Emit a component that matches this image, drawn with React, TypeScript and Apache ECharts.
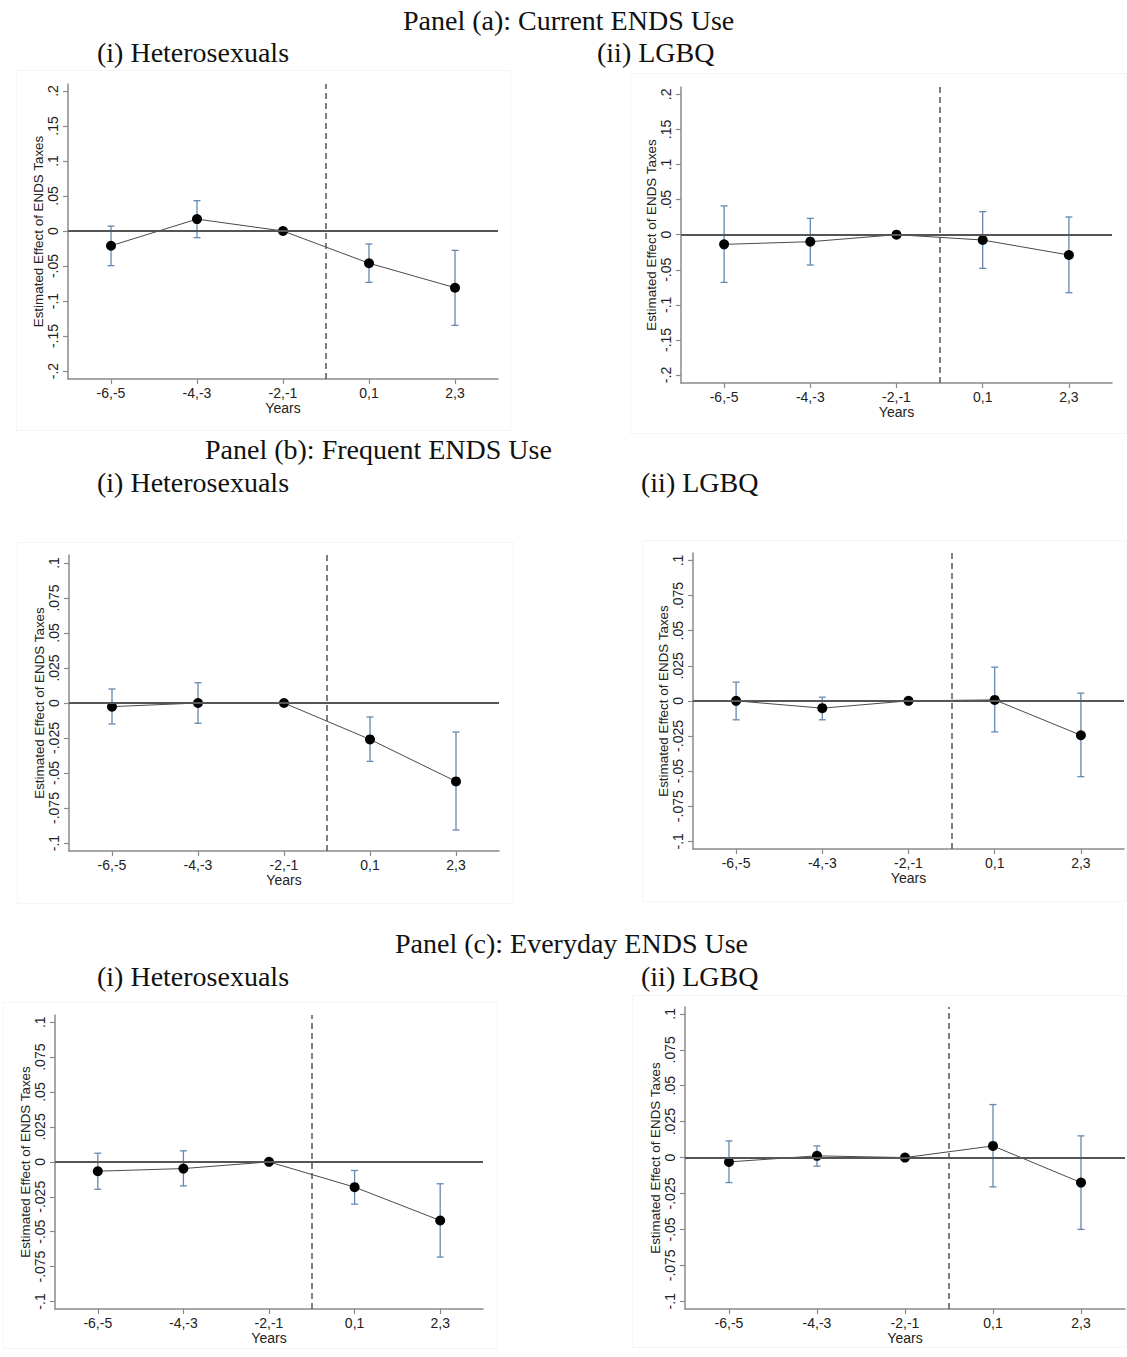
import React, { useEffect, useRef } from "react";
import * as echarts from "echarts";

// ---- Data ----
const categories = ["-6,-5", "-4,-3", "-2,-1", "0,1", "2,3"];
const categoryPositions = [1, 2, 3, 4, 5];
const eventLine = 3.5;

const yTicksWide = [-0.2, -0.15, -0.1, -0.05, 0, 0.05, 0.1, 0.15, 0.2];
const yTicksNarrow = [-0.1, -0.075, -0.05, -0.025, 0, 0.025, 0.05, 0.075, 0.1];

// Panel (a): Current ENDS Use
const currentHetCoef = [-0.021, 0.017, 0, -0.046, -0.081];
const currentHetLo = [-0.0495, -0.0095, null, -0.0733, -0.1348];
const currentHetHi = [0.007, 0.0433, null, -0.0186, -0.0276];
const currentLgbqCoef = [-0.0138, -0.01, 0, -0.0076, -0.029];
const currentLgbqLo = [-0.068, -0.0433, null, -0.048, -0.0827];
const currentLgbqHi = [0.041, 0.0233, null, 0.0328, 0.0252];

// Panel (b): Frequent ENDS Use
const frequentHetCoef = [-0.0026, 0, 0, -0.026, -0.056];
const frequentHetLo = [-0.015, -0.0145, null, -0.0417, -0.0907];
const frequentHetHi = [0.01, 0.0145, null, -0.01, -0.0207];
const frequentLgbqCoef = [0, -0.0052, 0, 0.0007, -0.0245];
const frequentLgbqLo = [-0.0135, -0.0135, null, -0.0221, -0.054];
const frequentLgbqHi = [0.0133, 0.0026, null, 0.024, 0.0055];

// Panel (c): Everyday ENDS Use
const everydayHetCoef = [-0.0067, -0.0048, 0, -0.0181, -0.042];
const everydayHetLo = [-0.0196, -0.0172, null, -0.0303, -0.0682];
const everydayHetHi = [0.0062, 0.0079, null, -0.0062, -0.0157];
const everydayLgbqCoef = [-0.003, 0.0012, 0, 0.0081, -0.0174];
const everydayLgbqLo = [-0.0174, -0.006, null, -0.0204, -0.05];
const everydayLgbqHi = [0.0116, 0.0081, null, 0.0369, 0.0151];

const xAxisTitle = "Years";
const yAxisTitle = "Estimated Effect of ENDS Taxes";

const panelTitles = [
  { text: "Panel (a): Current ENDS Use", x: 403, y: 20 },
  { text: "(i) Heterosexuals", x: 97, y: 52 },
  { text: "(ii) LGBQ", x: 597, y: 52 },
  { text: "Panel (b): Frequent ENDS Use", x: 205, y: 449 },
  { text: "(i) Heterosexuals", x: 97, y: 482 },
  { text: "(ii) LGBQ", x: 641, y: 482 },
  { text: "Panel (c): Everyday ENDS Use", x: 395, y: 943 },
  { text: "(i) Heterosexuals", x: 97, y: 976 },
  { text: "(ii) LGBQ", x: 641, y: 976 },
];

// ---- Layout ----
const panels = [
  { coef: currentHetCoef, lo: currentHetLo, hi: currentHetHi, ticks: yTicksWide, min: -0.2114, max: 0.21,
    grid: { left: 68, top: 84, width: 430, height: 295 }, box: [16, 70, 494, 360] },
  { coef: currentLgbqCoef, lo: currentLgbqLo, hi: currentLgbqHi, ticks: yTicksWide, min: -0.2114, max: 0.2105,
    grid: { left: 681, top: 87, width: 431, height: 296 }, box: [630, 73, 496, 360] },
  { coef: frequentHetCoef, lo: frequentHetLo, hi: frequentHetHi, ticks: yTicksNarrow, min: -0.1057, max: 0.1057,
    grid: { left: 69, top: 555, width: 430, height: 296 }, box: [17, 542, 496, 361] },
  { coef: frequentLgbqCoef, lo: frequentLgbqLo, hi: frequentLgbqHi, ticks: yTicksNarrow, min: -0.1055, max: 0.1053,
    grid: { left: 693, top: 553, width: 431, height: 296 }, box: [642, 540, 484, 361] },
  { coef: everydayHetCoef, lo: everydayHetLo, hi: everydayHetHi, ticks: yTicksNarrow, min: -0.1054, max: 0.1052,
    grid: { left: 55, top: 1015, width: 428, height: 294 }, box: [3, 1002, 494, 346] },
  { coef: everydayLgbqCoef, lo: everydayLgbqLo, hi: everydayLgbqHi, ticks: yTicksNarrow, min: -0.1054, max: 0.1048,
    grid: { left: 685, top: 1007, width: 440, height: 302 }, box: [632, 995, 494, 352] },
];

const SANS = "Liberation Sans, Arial, sans-serif";
const SERIF = "Liberation Serif, Times New Roman, serif";
const AXIS_COLOR = "#8a8a8a";
const CI_COLOR = "#6389b0";

function fmtStata(v: number): string {
  if (Math.abs(v) < 1e-9) return "0";
  const s = String(parseFloat(v.toFixed(3)));
  return s.replace("0.", ".");
}

function buildOption() {
  const grid = panels.map((p) => ({ ...p.grid }));
  const xAxis = panels.map((p, i) => ({
    type: "value",
    gridIndex: i,
    min: 0.5,
    max: 5.5,
    splitLine: { show: false },
    axisLine: { show: true, onZero: false, lineStyle: { color: AXIS_COLOR, width: 1.5 } },
    axisTick: { show: true, customValues: categoryPositions, length: 5, lineStyle: { color: AXIS_COLOR, width: 1.2 } },
    axisLabel: {
      customValues: categoryPositions,
      formatter: (v: number) => categories[Math.round(v) - 1] ?? "",
      fontFamily: SANS,
      fontSize: 14,
      color: "#222",
      margin: 7,
    },
    name: xAxisTitle,
    nameLocation: "middle",
    nameGap: 21,
    nameTextStyle: { fontFamily: SANS, fontSize: 14, color: "#222" },
  }));
  const yAxis = panels.map((p, i) => ({
    type: "value",
    gridIndex: i,
    min: p.min,
    max: p.max,
    splitLine: { show: false },
    axisLine: { show: true, onZero: false, lineStyle: { color: AXIS_COLOR, width: 1.5 } },
    axisTick: { show: true, customValues: p.ticks, length: 5, lineStyle: { color: AXIS_COLOR, width: 1.2 } },
    axisLabel: {
      customValues: p.ticks,
      rotate: 90,
      formatter: (v: number) => fmtStata(v),
      fontFamily: SANS,
      fontSize: 14,
      color: "#222",
      margin: 8,
    },
    name: yAxisTitle,
    nameLocation: "middle",
    nameGap: 23,
    nameTextStyle: { fontFamily: SANS, fontSize: 13.4, color: "#222" },
  }));

  const series: any[] = [];
  panels.forEach((p, i) => {
    // reference lines
    series.push({
      type: "scatter",
      xAxisIndex: i,
      yAxisIndex: i,
      data: [],
      z: 1,
      silent: true,
      markLine: {
        silent: true,
        symbol: "none",
        label: { show: false },
        animation: false,
        data: [
          { yAxis: 0, lineStyle: { color: "#555", width: 1.8, type: "solid" } },
          { xAxis: eventLine, lineStyle: { color: "#555", width: 1.5, type: [6, 4] } },
        ],
      },
    });
    // confidence intervals
    const ciData = categoryPositions
      .map((x, k) => [x, p.lo[k], p.hi[k]])
      .filter((d) => d[1] !== null && d[2] !== null);
    series.push({
      type: "custom",
      xAxisIndex: i,
      yAxisIndex: i,
      z: 2,
      silent: true,
      encode: { x: 0, y: [1, 2] },
      data: ciData,
      renderItem: (params: any, api: any) => {
        const x = api.value(0);
        const lo = api.value(1);
        const hi = api.value(2);
        const a = api.coord([x, lo]);
        const b = api.coord([x, hi]);
        const w = 3.5;
        const style = { stroke: CI_COLOR, lineWidth: 1.3 };
        return {
          type: "group",
          children: [
            { type: "line", shape: { x1: a[0], y1: a[1], x2: b[0], y2: b[1] }, style },
            { type: "line", shape: { x1: a[0] - w, y1: a[1], x2: a[0] + w, y2: a[1] }, style },
            { type: "line", shape: { x1: b[0] - w, y1: b[1], x2: b[0] + w, y2: b[1] }, style },
          ],
        };
      },
    });
    // point estimates
    series.push({
      type: "line",
      xAxisIndex: i,
      yAxisIndex: i,
      z: 3,
      silent: true,
      data: categoryPositions.map((x, k) => [x, p.coef[k]]),
      symbol: "circle",
      symbolSize: 10,
      itemStyle: { color: "#000" },
      lineStyle: { color: "#4a4a4a", width: 1 },
    });
  });

  const graphic: any[] = [];
  panels.forEach((p) => {
    graphic.push({
      type: "rect",
      silent: true,
      z: -10,
      shape: { x: p.box[0] + 0.5, y: p.box[1] + 0.5, width: p.box[2], height: p.box[3] },
      style: { fill: "none", stroke: "#f5f5f5", lineWidth: 1 },
    });
  });
  panelTitles.forEach((t) => {
    graphic.push({
      type: "text",
      x: t.x,
      y: t.y,
      style: {
        text: t.text,
        fontFamily: SERIF,
        fontSize: 28,
        fill: "#111",
        textAlign: "left",
        textVerticalAlign: "middle",
      },
    });
  });

  return {
    animation: false,
    backgroundColor: "#fff",
    grid,
    xAxis,
    yAxis,
    series,
    graphic,
  };
}

export default function App() {
  const ref = useRef<HTMLDivElement>(null);
  useEffect(() => {
    if (!ref.current) return;
    const chart = echarts.init(ref.current, undefined, { renderer: "svg" });
    chart.setOption(buildOption() as any);
    return () => chart.dispose();
  }, []);
  return (
    <div
      ref={ref}
      style={{ position: "absolute", left: 0, top: 0, width: 1127, height: 1357, background: "#fff" }}
    />
  );
}
